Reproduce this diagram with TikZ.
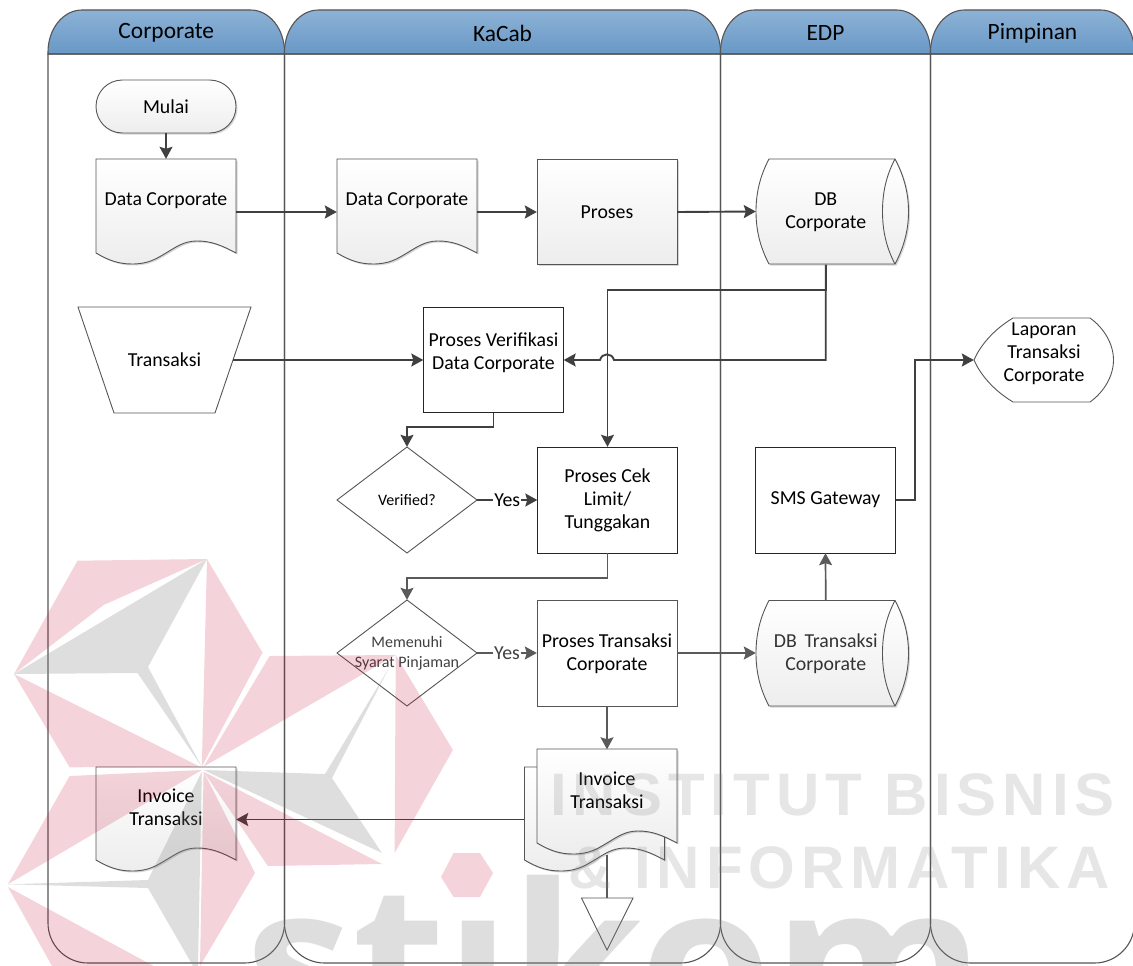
\documentclass[tikz,border=0pt]{standalone}
\usepackage{fontspec}
\setmainfont{Carlito}
\newfontfamily\wmfont[LetterSpace=10]{Liberation Sans}
\newfontfamily\wmbig{Open Sans}
\usetikzlibrary{arrows.meta,shadows,shapes.geometric}
\definecolor{headtop}{HTML}{8DB2D6}
\definecolor{headbot}{HTML}{6898C6}
\definecolor{laneline}{HTML}{555555}
\definecolor{conn}{HTML}{404040}
\definecolor{connsoft}{HTML}{5A5A5A}
\definecolor{wmred}{HTML}{C01030}
\definecolor{wmgray}{HTML}{808080}
\newcommand{\up}[2]{\raisebox{#1pt}[0pt][0pt]{\begin{tabular}{@{}c@{}}#2\end{tabular}}}
% document outline: left x, top y, y of the side ends
\newcommand{\docpath}[3]{(#1,#2) -- (#1+140,#2) -- (#1+140,#3)
  .. controls (#1+125,#3-8) and (#1+115,#3-12) .. (#1+101,#3-12)
  .. controls (#1+88,#3-12) and (#1+80,#3-6) .. (#1+70,#3)
  .. controls (#1+60,#3+6) and (#1+52,#3+11) .. (#1+36,#3+11)
  .. controls (#1+22,#3+11) and (#1+12,#3+7) .. (#1,#3) -- cycle}
% stored-data outline: top y, bottom y
\newcommand{\dbpath}[2]{(769,#1) -- (895,#1)
  .. controls (904,#1+17) and (908.5,#1+34) .. (908.5,#1/2+#2/2)
  .. controls (908.5,#2-34) and (904,#2-17) .. (895,#2)
  -- (769,#2)
  .. controls (760,#2-17) and (756,#2-34) .. (756,#1/2+#2/2)
  .. controls (756,#1+34) and (760,#1+17) .. (769,#1) -- cycle}
\newcommand{\dbinner}[2]{(895,#1)
  .. controls (886,#1+17) and (882.5,#1+34) .. (882.5,#1/2+#2/2)
  .. controls (882.5,#2-34) and (886,#2-17) .. (895,#2)}
% lane: left x, right x, node name, title
\newcommand{\lane}[4]{%
  \path[lanehead] (#1,54) -- (#1,52) .. controls (#1,29) and (#1+15,10) .. (#1+34,10)
    -- (#2-34,10) .. controls (#2-15,10) and (#2,29) .. (#2,52) -- (#2,54) -- cycle;
  \draw[laneedge] (#1,54) -- (#1,923) .. controls (#1,945) and (#1+18,963) .. (#1+40,963)
    -- (#2-40,963) .. controls (#2-18,963) and (#2,945) .. (#2,923) -- (#2,54) -- cycle;
  \node[font=\headfont,anchor=center,minimum width=#2pt-#1pt,minimum height=44pt,inner sep=0pt] (#3) at (#1/2+#2/2,33) {#4};
}
\newcommand{\headfont}{\fontsize{23.4}{27}\selectfont}
\tikzset{
  lanehead/.style={draw=laneline,line width=1.1pt,top color=headtop,bottom color=headbot},
  laneedge/.style={draw=laneline,line width=1.1pt},
  softshadow/.style={general shadow={shadow xshift=1.5pt,shadow yshift=-1.5pt,fill=black,opacity=.16}},
  shapefill/.style={draw=laneline,line width=.9pt,top color=white,bottom color=black!7,softshadow},
  plainline/.style={draw=black!85,line width=.9pt,fill=white},
  softbox/.style={draw=laneline,line width=.9pt,fill=white},
  holder/.style={rectangle,inner sep=0pt,minimum width=140pt,minimum height=106pt,align=center,font=\fontsize{19.8}{23}\selectfont,text=black},
  smalltext/.style={font=\fontsize{16}{20}\selectfont},
  flow/.style={draw=conn,line width=1.9pt,-{Stealth[length=12pt,width=13pt,inset=2pt]}},
  flowsoft/.style={draw=connsoft,line width=1.7pt,-{Stealth[length=12pt,width=13pt,inset=2pt]}},
  plainflow/.style={draw=connsoft,line width=1.3pt},
  yesmark/.style={fill=white,inner sep=1pt,font=\fontsize{19.8}{23}\selectfont},
  wr/.style={fill=wmred,opacity=.18},
  wg/.style={fill=wmgray,opacity=.26},
  wt/.style={text=wmgray,text opacity=.2,inner sep=0pt,anchor=base west}
}
\begin{document}
\begin{tikzpicture}[x=1pt,y=-1pt]
\useasboundingbox (0,0) rectangle (1133,966);
% lanes
\lane{48}{284.5}{lcorp}{Corporate}
\lane{284.5}{720.5}{lkacab}{KaCab}
\lane{720.5}{930.5}{ledp}{EDP}
\lane{930.5}{1134.5}{lpimp}{Pimpinan}
% shapes
\path[shapefill] (122.5,80) -- (209.5,80) .. controls (224.5,80) and (236,92) .. (236,106.5)
  .. controls (236,121) and (224.5,133) .. (209.5,133) -- (122.5,133)
  .. controls (107.5,133) and (96,121) .. (96,106.5) .. controls (96,92) and (107.5,80) .. (122.5,80) -- cycle;
\path[shapefill] \docpath{96}{159}{253};
\path[shapefill] \docpath{337}{159}{253};
\path[shapefill] (537,159) rectangle (677,264);
\path[shapefill] \dbpath{159}{264};
\draw[draw=laneline,line width=.9pt] \dbinner{159}{264};
\path[softbox] (78,307) -- (251,307) -- (215,413) -- (114,413) -- cycle;
\path[plainline] (423.5,307.5) rectangle (563.5,412.5);
\path[softbox] (407,447) -- (477,500) -- (407,553) -- (337,500) -- cycle;
\path[plainline] (537.5,447.5) rectangle (677.5,553);
\path[plainline] (755.5,447.5) rectangle (895.5,553);
\path[softbox] (974,360) .. controls (980,346) and (993,330) .. (1013,318) -- (1090,318)
  .. controls (1104,328) and (1113.5,344) .. (1113.5,360)
  .. controls (1113.5,376) and (1104,392) .. (1090,402) -- (1013,402)
  .. controls (993,390) and (980,374) .. (974,360) -- cycle;
\path[softbox] (407,600) -- (477,653) -- (407,706) -- (337,653) -- cycle;
\path[softbox] (537,600.5) rectangle (677,706);
\path[shapefill] \dbpath{600.5}{706};
\draw[draw=laneline,line width=.9pt] \dbinner{600.5}{706};
\path[shapefill] \docpath{524.5}{767}{860};
\path[shapefill] \docpath{537}{749}{843};
\path[shapefill] \docpath{96}{767}{860};
\path[softbox] (581.5,898) -- (633,898) -- (607,950) -- cycle;
% nodes
\node[holder,minimum height=53pt] (mulai) at (166,106.5) {Mulai};
\node[holder] (dc1) at (166,212) {\up{6}{Data Corporate}};
\node[holder] (dc2) at (407,212) {\up{6}{Data Corporate}};
\node[holder] (proses) at (607,212) {Proses};
\node[holder,minimum width=139.5pt] (dbc) at (825.75,211.5) {\up{-6}{DB\\Corporate}};
\node[holder,minimum width=137pt] (trx) at (164.5,360) {Transaksi};
\node[holder] (verif) at (493.5,360) {\up{1}{Proses Verifikasi\\Data Corporate}};
\node[holder,smalltext] (cekv) at (407,500) {Verified?};
\node[holder] (cek) at (607.5,500) {\up{-6}{Proses Cek\\Limit/\\Tunggakan}};
\node[holder] (sms) at (825.5,500) {SMS Gateway};
\node[holder,minimum height=84pt] (lap) at (1044,360) {\up{1}{Laporan\\Transaksi\\Corporate}};
\node[holder,smalltext,text=black!75] (syarat) at (407,653) {\up{-4.7}{Memenuhi\\Syarat Pinjaman}};
\node[holder] (ptrx) at (607,653) {\up{-6.5}{Proses Transaksi\\Corporate}};
\node[holder,minimum width=139.5pt,text=black!80] (dbt) at (825.75,653) {\up{-6.5}{DB\, Transaksi\\Corporate}};
\node[holder,minimum height=105pt] (invfront) at (607,802) {\up{4}{Invoice\\Transaksi}};
\node[holder,minimum height=105pt,minimum width=141pt] (invback) at (595,819.5) {};
\node[holder,minimum height=105pt] (invleft) at (166,819.5) {\up{5}{Invoice\\Transaksi}};
\node[rectangle,inner sep=0pt,minimum width=51pt,minimum height=52pt] (off) at (607,924) {};
% connectors
\coordinate (bendcek) at (607.5,290);
\coordinate (jumpr) at (614,360);
\coordinate (jumpl) at (600,360);
\draw[flow] (mulai) -- (dc1);
\draw[flow] (dc1.east) -- (dc2.west);
\draw[flow] (dc2.east) -- (proses.west);
\draw[flow] (proses.east) -- (dbc.west);
\draw[flow] (dbc.south) |- (jumpr) .. controls (612,352.5) and (602,352.5) .. (jumpl) -- (verif.east);
\draw[flow] (dbc.south) |- (bendcek) -- (cek.north);
\draw[flow] (trx.east) -- (verif.west);
\draw[flow] ([xshift=0pt]verif.south) |- (407,427) -- (cekv.north);
\draw[flow] (cekv.east) -- node[yesmark] (yes1) {Yes} (cek.west);
\draw[flowsoft] (cek.south) |- (407,578) -- (syarat.north);
\draw[flowsoft] (syarat.east) -- node[yesmark,text=black!75] (yes2) {Yes} (ptrx.west);
\draw[flowsoft] (ptrx.east) -- (dbt.west);
\draw[flowsoft] (ptrx.south) -- (invfront.north);
\draw[flowsoft] (dbt.north) -- (sms.south);
\draw[flow] (sms.east) -| (915,360) -- (lap.west);
\draw[flow] (invback.west) -- (invleft.east);
\draw[plainflow] (607,855) -- (off.north);
% watermark
\begin{scope}
\clip (0,0) rectangle (1133,966);
\fill[wr] (77.5,560.7) -- (207,559) -- (103.6,605) -- (14,674) -- cycle;
\fill[wg] (207,559) -- (148,667) -- (137.5,673) -- (14,674) -- cycle;
\fill[wr] (207,559) -- (262.5,652.7) -- (201.8,766.7) -- cycle;
\fill[wg] (137.5,673) -- (148,667) -- (201.8,766.7) -- cycle;
\fill[wr] (14,674) -- (200,766.7) -- (69.6,767.3) -- cycle;
\fill[wr] (269.6,656) -- (395.7,655) -- (203.6,766.7) -- cycle;
\fill[wg] (389,668) -- (325,774) -- (332,778) -- cycle;
\fill[wg] (203.6,770) -- (325,774) -- (332,778) -- (382,853) -- cycle;
\fill[wr] (395.7,655) -- (452.9,750) -- (394.6,853) -- cycle;
\fill[wr] (203.6,771.7) -- (382,864) -- (267.9,866) -- cycle;
\fill[wr] (201.8,770) -- (69.6,776) -- (7.9,884.3) -- cycle;
\fill[wg] (201.8,771.7) -- (148,880) -- (148,888) -- (193,966) -- (198,966) -- cycle;
\fill[wg] (7.9,884.3) -- (148,880) -- (148,888) -- cycle;
\fill[wr] (203.6,771.7) -- (255,873) -- (200,966) -- cycle;
\fill[wr] (7.9,887) -- (153.6,966) -- (52,966) -- cycle;
\fill[wr] (441,877) -- (453.6,853) -- (480,853) -- (493,873) -- (480,897) -- (453.6,897) -- cycle;
\node[wt,font=\wmfont\bfseries\fontsize{60}{64}\selectfont] (wm1) at (550,815) {INSTITUT BISNIS};
\node[wt,font=\wmfont\bfseries\fontsize{60}{64}\selectfont] (wm2) at (568,888) {\& INFORMATIKA};
\node[wt,text opacity=.26,font=\wmbig\bfseries\fontsize{215}{215}\selectfont] (wm3) at (245,1038) {st\i kom};
\end{scope}
\end{tikzpicture}
\end{document}
